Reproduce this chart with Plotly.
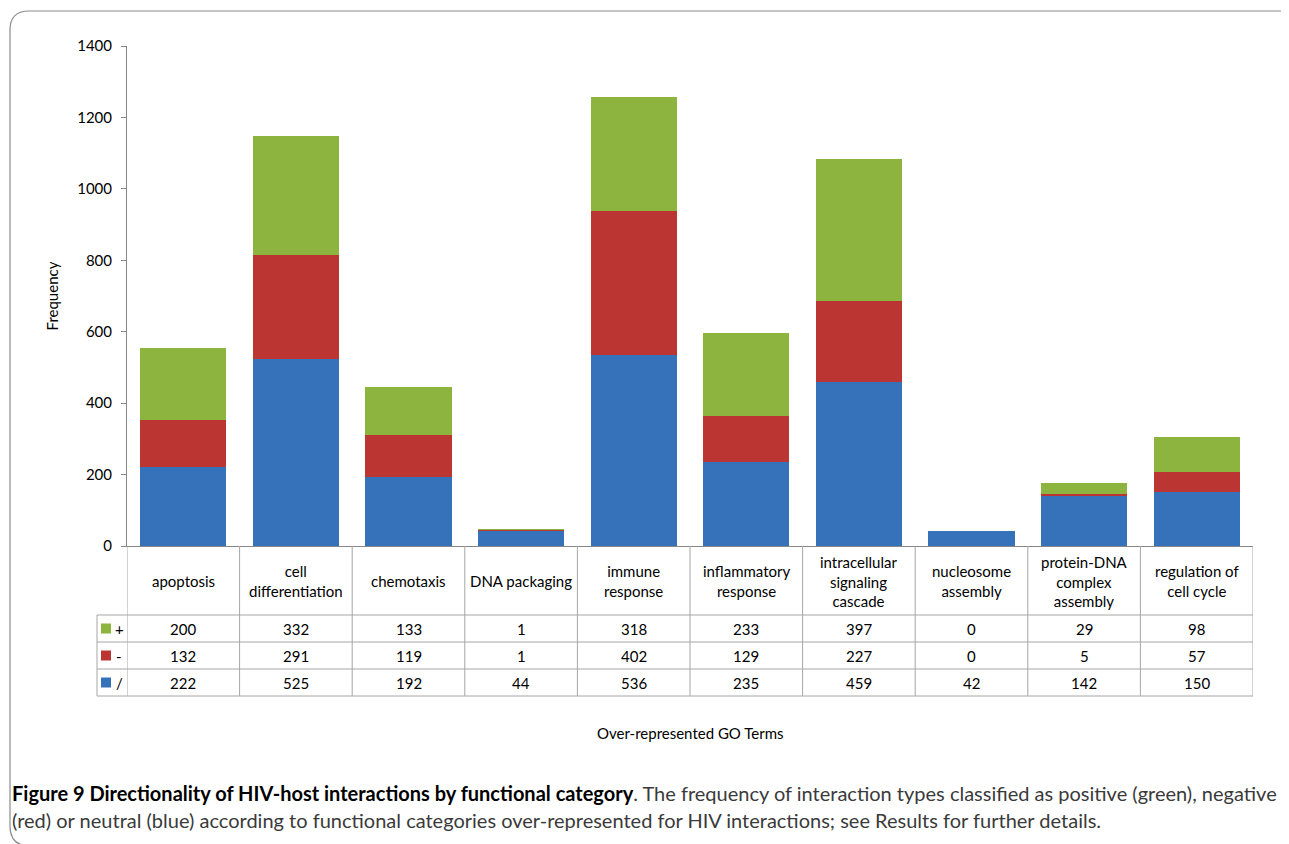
import plotly.graph_objects as go

categories = [
    "apoptosis", "cell differentiation", "chemotaxis", "DNA packaging",
    "immune response", "inflammatory response", "intracellular signaling cascade",
    "nucleosome assembly", "protein-DNA complex assembly", "regulation of cell cycle",
]
header_labels = [
    "apoptosis", "cell<br>differentiation", "chemotaxis", "DNA packaging",
    "immune<br>response", "inflammatory<br>response",
    "intracellular<br>signaling<br>cascade", "nucleosome<br>assembly",
    "protein-DNA<br>complex<br>assembly", "regulation of<br>cell cycle",
]
positive = [200, 332, 133, 1, 318, 233, 397, 0, 29, 98]
negative = [132, 291, 119, 1, 402, 129, 227, 0, 5, 57]
neutral = [222, 525, 192, 44, 536, 235, 459, 42, 142, 150]

series_names = ["+", "-", "/"]
series_values = [positive, negative, neutral]
series_colors = ["#8db43f", "#bb3533", "#3672ba"]

OFF = 8  # page body margin of the browser
W, H = 1289 - OFF, 844 - OFF
L, R, T, B = 127, 1253, 46, 546  # plot area in reference pixels
FONT = "Lato, Calibri, Carlito, sans-serif"
GRID = "#a6a6a6"


def px(x):
    return (x - L) / (R - L)


def py(y):
    return (B - y) / (B - T)


fig = go.Figure()
# bottom to top: neutral, negative, positive
for name, vals, col in zip(series_names[::-1], series_values[::-1], series_colors[::-1]):
    fig.add_trace(go.Bar(x=list(range(len(categories))), y=vals, name=name,
                         marker=dict(color=col, line=dict(width=0)),
                         hovertext=categories, showlegend=False))

shapes = []
annotations = []

# data table under the axis
row_tops = [615, 642, 669, 696]
for yy in row_tops:
    shapes.append(dict(type="line", xref="paper", yref="paper", x0=px(97), x1=1,
                       y0=py(yy), y1=py(yy), line=dict(color=GRID, width=1)))
for k in range(len(categories) + 1):
    shapes.append(dict(type="line", xref="x", yref="paper", x0=k - 0.5, x1=k - 0.5,
                       y0=py(546), y1=py(696), line=dict(color=GRID, width=1)))
shapes.append(dict(type="line", xref="paper", yref="paper", x0=px(97), x1=px(97),
                   y0=py(615), y1=py(696), line=dict(color=GRID, width=1)))

for i, lab in enumerate(header_labels):
    annotations.append(dict(x=i, y=py(581), xref="x", yref="paper", text=lab,
                            showarrow=False, font=dict(size=15, color="#000", family=FONT),
                            align="center", xanchor="center", yanchor="middle"))

for r, (name, vals, col) in enumerate(zip(series_names, series_values, series_colors)):
    yc = (row_tops[r] + row_tops[r + 1]) / 2
    for i, v in enumerate(vals):
        annotations.append(dict(x=i, y=py(yc), xref="x", yref="paper", text=str(v),
                                showarrow=False, xanchor="center", yanchor="middle",
                                font=dict(size=15, color="#000", family=FONT)))
    shapes.append(dict(type="rect", xref="paper", yref="paper", x0=px(101), x1=px(111),
                       y0=py(yc + 5), y1=py(yc - 5), fillcolor=col, line=dict(width=0)))
    annotations.append(dict(x=px(119), y=py(yc), xref="paper", yref="paper", text=name,
                            showarrow=False, xanchor="center", yanchor="middle",
                            font=dict(size=15, color="#000", family=FONT)))

# x-axis title
annotations.append(dict(x=0.5, y=py(733), xref="paper", yref="paper",
                        text="Over-represented GO Terms", showarrow=False,
                        xanchor="center", yanchor="middle",
                        font=dict(size=15, color="#000", family=FONT)))

# figure caption
cap_font = "Lato, Noto Sans, sans-serif"
annotations.append(dict(x=px(10), y=py(793), xref="paper", yref="paper", xanchor="left",
                        yanchor="middle", showarrow=False, align="left",
                        text="<b><span style='color:#000'>Figure 9 Directionality of HIV-host "
                             "interactions by functional category</span></b>. "
                             "The frequency of interaction types classified as positive (green), negative",
                        font=dict(size=20, color="#3a3a3a", family=cap_font)))
annotations.append(dict(x=px(10), y=py(820), xref="paper", yref="paper", xanchor="left",
                        yanchor="middle", showarrow=False, align="left",
                        text="(red) or neutral (blue) according to functional categories over-represented "
                             "for HIV interactions; see Results for further details.",
                        font=dict(size=20, color="#3a3a3a", family=cap_font)))

# rounded outer frame (cropped at right and bottom)
path = (f"M {px(30)},{py(846)} Q {px(10)},{py(846)} {px(10)},{py(826)} "
        f"L {px(10)},{py(30)} Q {px(10)},{py(11)} {px(29)},{py(11)} "
        f"L {px(1284)},{py(11)} Q {px(1289)},{py(11)} {px(1289)},{py(15)}")
shapes.append(dict(type="path", xref="paper", yref="paper", path=path,
                   line=dict(color="#8c8c8c", width=1.2)))

fig.update_layout(
    barmode="stack",
    bargap=0.236,
    width=W, height=H,
    margin=dict(l=L - OFF, r=W - (R - OFF), t=T - OFF, b=H - (B - OFF), pad=0),
    paper_bgcolor="white", plot_bgcolor="white",
    font=dict(family=FONT, size=15, color="#000"),
    shapes=shapes,
    annotations=annotations,
    xaxis=dict(range=[-0.5, len(categories) - 0.5], showticklabels=False, ticks="",
               showgrid=False, zeroline=False, showline=True, linecolor="#868686",
               linewidth=1, fixedrange=True),
    yaxis=dict(range=[0, 1400], dtick=200, ticks="outside", ticklen=5,
               tickcolor="#868686", showline=True, linecolor="#868686", linewidth=1,
               showgrid=False, zeroline=False, ticklabelstandoff=6,
               tickfont=dict(size=15, color="#000", family=FONT),
               title=dict(text="Frequency", standoff=14,
                          font=dict(size=15, color="#000", family=FONT))),
)

fig.write_html("out.html")
